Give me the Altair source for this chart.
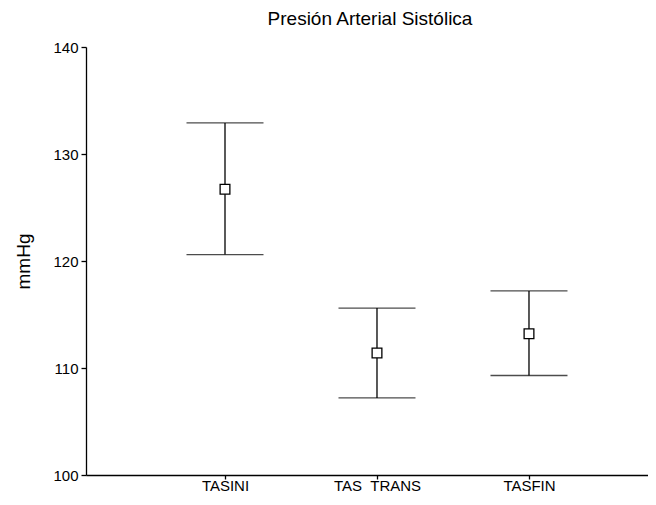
import altair as alt
import pandas as pd

categories = ["TASINI", "TAS\u00a0\u00a0TRANS", "TASFIN"]
positions = [1, 2, 3]
means = [126.7, 111.4, 113.2]
lowers = [120.6, 107.2, 109.3]
uppers = [132.9, 115.6, 117.2]
y_ticks = [100, 110, 120, 130, 140]

df = pd.DataFrame({"pos": positions, "cat": categories, "mean": means,
                   "lo": lowers, "hi": uppers})

label_expr = " : ".join(
    [f"datum.value == {p} ? '{c}'" for p, c in zip(positions, categories)]
) + " : ''"

FONT = "Liberation Sans"

x = alt.X("pos:Q", scale=alt.Scale(domain=[0.0855, 3.783], nice=False, zero=False),
          axis=alt.Axis(values=positions, labelExpr=label_expr, title=None, grid=False,
                        domainColor="black", tickColor="black", labelColor="black",
                        domainWidth=1.3, tickWidth=1.3,
                        tickSize=4, labelFontSize=15, labelPadding=-1,
                        labelFont=FONT))
y = alt.Y("lo:Q", scale=alt.Scale(domain=[100, 140], nice=False, zero=False),
          axis=alt.Axis(values=y_ticks, title="mmHg", grid=False, domainColor="black",
                        tickColor="black", labelColor="black", tickSize=5,
                        domainWidth=1.3, tickWidth=1.3,
                        labelFontSize=15, labelPadding=3, titleFontSize=19,
                        titleFontWeight="normal", titleColor="black",
                        titlePadding=19, labelFont=FONT, titleFont=FONT))

base = alt.Chart(df)
rule = base.mark_rule(color="black", strokeWidth=1.3).encode(x=x, y=y, y2="hi:Q")
cap_lo = base.mark_tick(orient="horizontal", size=77, thickness=1.3, color="black").encode(
    x="pos:Q", y="lo:Q")
cap_hi = base.mark_tick(orient="horizontal", size=77, thickness=1.3, color="black").encode(
    x="pos:Q", y="hi:Q")
pt = base.mark_square(filled=False, color="black", size=95, strokeWidth=1.3,
                      fill="white", fillOpacity=1).encode(x="pos:Q", y="mean:Q")

chart = alt.layer(rule, cap_lo, cap_hi, pt).properties(
    width=562, height=428,
    title=alt.TitleParams("Presión Arterial Sistólica", fontSize=19, fontWeight="normal",
                          font=FONT, color="black", anchor="middle",
                          offset=11, dx=3),
    autosize=alt.AutoSizeParams(type="none"),
    padding={"left": 78, "top": 39, "right": 0, "bottom": 18},
).configure_view(stroke=None)

chart.save("out.html", embed_options={"renderer": "svg", "actions": False})
